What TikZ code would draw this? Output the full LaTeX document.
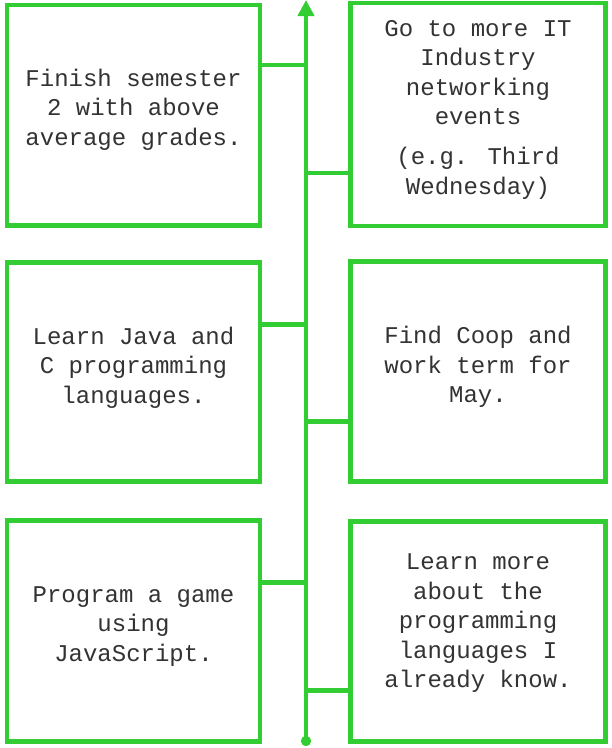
\documentclass[tikz,border=0pt]{standalone}
\usepackage{fontspec}
\newfontfamily\cour{Liberation Mono}
\usetikzlibrary{arrows.meta}
\definecolor{grn}{RGB}{50,205,50}
\begin{document}
\begin{tikzpicture}[x=1pt,y=-1pt,
  goalbox/.style={draw=grn,line width=4.5pt,inner sep=0pt,fill=white},
  leftbox/.style={goalbox,minimum width=253pt},
  rightbox/.style={goalbox,minimum width=255pt},
  txt/.style={font=\cour\fontsize{24}{29.5}\selectfont,align=center,inner sep=0pt,text=black!80},
  link/.style={draw=grn,line width=4.5pt}]
\useasboundingbox (0,0) rectangle (612,748);
% spine
\coordinate (bot) at (306,746);
\coordinate (top) at (306,0);
\draw[link,{Circle[length=10pt 0,width=10pt 0]}-{Triangle[length=16pt 0,width=16pt 0]}] (bot) -- (top);
% boxes
\node[leftbox,minimum height=220.5pt] (b1) at (133.5,115.25) {};
\node[rightbox,minimum height=223pt] (b2) at (478,114.5) {};
\node[leftbox,minimum height=219pt] (b3) at (133.5,372) {};
\node[rightbox,minimum height=220pt] (b4) at (478,371.5) {};
\node[leftbox,minimum height=221pt] (b5) at (133.5,631) {};
\node[rightbox,minimum height=220pt] (b6) at (478,631.5) {};
% texts
\node[txt] (t1) at (133.5,109.3) {Finish semester\\2 with above\\average grades.};
\node[txt] (t2) at (478,109.5) {Go to more IT\\Industry\\networking\\events\\[10.5pt](e.g. Third\\Wednesday)};
\node[txt] (t3) at (133.5,367.3) {Learn Java and\\C programming\\languages.};
\node[txt] (t4) at (478,366.8) {Find Coop and\\work term for\\May.};
\node[txt] (t5) at (133.5,626.5) {Program a game\\using\\JavaScript.};
\node[txt] (t6) at (478,623.5) {Learn more\\about the\\programming\\languages I\\already know.};
% spine junctions
\coordinate (s1) at (306,65);
\coordinate (s2) at (306,173);
\coordinate (s3) at (306,324.5);
\coordinate (s4) at (306,421.5);
\coordinate (s5) at (306,582.5);
\coordinate (s6) at (306,690.5);
% connectors
\draw[link] (b1.east |- s1) -- (s1);
\draw[link] (b2.west |- s2) -- (s2);
\draw[link] (b3.east |- s3) -- (s3);
\draw[link] (b4.west |- s4) -- (s4);
\draw[link] (b5.east |- s5) -- (s5);
\draw[link] (b6.west |- s6) -- (s6);
\end{tikzpicture}
\end{document}
